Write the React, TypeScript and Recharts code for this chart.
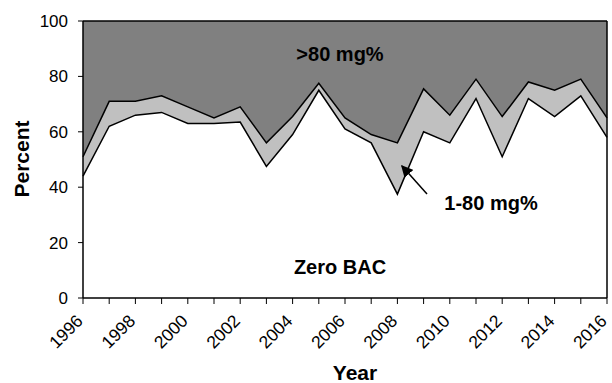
import {
  Area,
  ComposedChart,
  Line,
  ReferenceLine,
  XAxis,
  YAxis,
} from "recharts";

const FONT = "'Liberation Sans', Arial, sans-serif";

// BAC distribution per year, percent
const years = [
  1996, 1997, 1998, 1999, 2000, 2001, 2002, 2003, 2004, 2005, 2006,
  2007, 2008, 2009, 2010, 2011, 2012, 2013, 2014, 2015, 2016,
];
const zeroBac = [
  44, 62, 66, 67, 63, 63, 63.5, 47.5, 59, 75, 61, 56, 37.5, 60, 56, 72, 51, 72,
  65.5, 73, 58,
];
const lowBac = [
  7, 9, 5, 6, 6, 2, 5.5, 8.5, 6.5, 2.5, 4, 3, 18.5, 15.5, 10, 7, 14.5, 6, 9.5,
  6, 7,
];
const highBac = [
  49, 29, 29, 27, 31, 35, 31, 44, 34.5, 22.5, 35, 41, 44, 24.5, 34, 21, 34.5,
  22, 25, 21, 35,
];
const yTicks = [0, 20, 40, 60, 80, 100];

const rows = years.map((year, i) => ({
  year,
  zero: zeroBac[i],
  low: lowBac[i],
  high: highBac[i],
  lowTop: zeroBac[i] + lowBac[i],
}));

// every year gets a tick mark, only even years get a label
function YearTick({ x, y, payload }: any) {
  if (payload.value % 2 !== 0) return <g />;
  const ax = x + 1;
  const ay = y + 16;
  return (
    <text
      x={ax}
      y={ay}
      textAnchor="end"
      fontSize={17.5}
      fontFamily={FONT}
      fill="#000"
      transform={`rotate(-45, ${ax}, ${ay})`}
    >
      {payload.value}
    </text>
  );
}

export default function App() {
  return (
    <div style={{ position: "absolute", left: 0, top: 0, width: 612, height: 383, background: "#fff" }}>
      <ComposedChart
        width={612}
        height={383}
        data={rows}
        margin={{ top: 21, right: 5, bottom: 0, left: 0 }}
      >
        <XAxis
          dataKey="year"
          type="number"
          domain={[1996, 2016]}
          ticks={years}
          interval={0}
          height={85}
          tick={<YearTick />}
          tickSize={6}
          axisLine={{ stroke: "#000", strokeWidth: 1.5 }}
          tickLine={{ stroke: "#000" }}
        />
        <YAxis
          domain={[0, 100]}
          ticks={yTicks}
          width={83}
          tickSize={5}
          tickMargin={10}
          tick={{ fill: "#000", fontSize: 17, fontFamily: FONT }}
          axisLine={{ stroke: "#000", strokeWidth: 1.5 }}
          tickLine={{ stroke: "#000" }}
        />
        <Area
          type="linear"
          dataKey="zero"
          stackId="bac"
          fill="#ffffff"
          fillOpacity={1}
          stroke="none"
          isAnimationActive={false}
        />
        <Area
          type="linear"
          dataKey="low"
          stackId="bac"
          fill="#c0c0c0"
          fillOpacity={1}
          stroke="none"
          isAnimationActive={false}
        />
        <Area
          type="linear"
          dataKey="high"
          stackId="bac"
          fill="#808080"
          fillOpacity={1}
          stroke="none"
          isAnimationActive={false}
        />
        <Line
          type="linear"
          dataKey="zero"
          stroke="#000"
          strokeWidth={1.5}
          dot={false}
          isAnimationActive={false}
        />
        <Line
          type="linear"
          dataKey="lowTop"
          stroke="#000"
          strokeWidth={1.5}
          dot={false}
          isAnimationActive={false}
        />
        <ReferenceLine y={100} stroke="#000" strokeWidth={1.5} />
        <ReferenceLine x={2016} stroke="#000" strokeWidth={1.5} />
      </ComposedChart>
      <svg
        width={612}
        height={383}
        style={{ position: "absolute", left: 0, top: 0, pointerEvents: "none" }}
      >
        <defs>
          <marker id="head" markerWidth="8" markerHeight="8" refX="7" refY="4" orient="auto">
            <path d="M0,0 L8,4 L0,8 z" fill="#000" />
          </marker>
        </defs>
        <text x={21} y={159} fontSize={21} fontWeight="bold" fontFamily={FONT} textAnchor="middle" dominantBaseline="central" transform="rotate(-90, 21, 159)">
          Percent
        </text>
        <text x={355} y={380} fontSize={21} fontWeight="bold" fontFamily={FONT} textAnchor="middle">
          Year
        </text>
        <text x={340} y={61} fontSize={20} fontWeight="bold" fontFamily={FONT} textAnchor="middle">
          &gt;80 mg%
        </text>
        <text x={340} y={274} fontSize={20} fontWeight="bold" fontFamily={FONT} textAnchor="middle">
          Zero BAC
        </text>
        <text x={491} y={210} fontSize={20} fontWeight="bold" fontFamily={FONT} textAnchor="middle">
          1-80 mg%
        </text>
        <line x1={427} y1={194} x2={402} y2={166} stroke="#000" strokeWidth={1.5} markerEnd="url(#head)" />
      </svg>
    </div>
  );
}
